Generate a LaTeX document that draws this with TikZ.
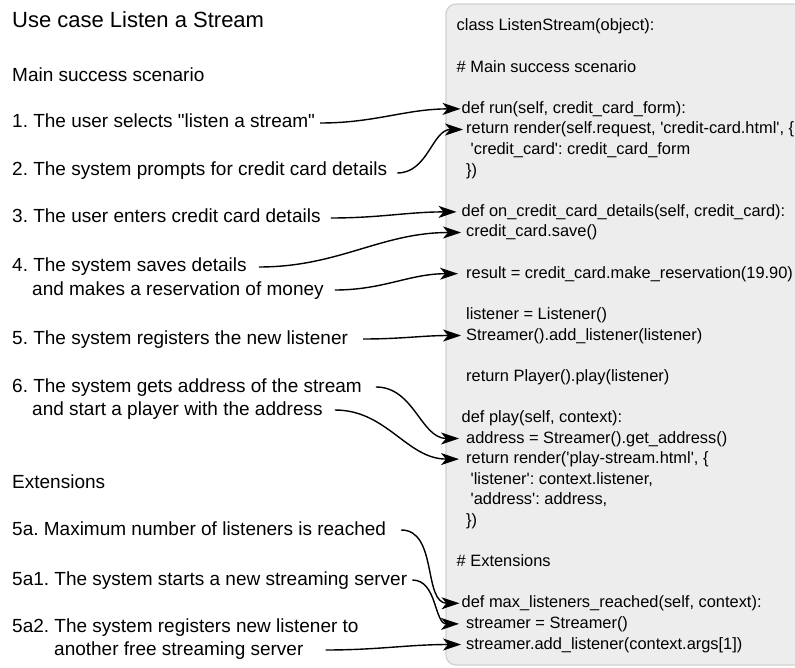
\documentclass[tikz,border=0pt]{standalone}
\usepackage{fontspec}
\setmainfont{Liberation Sans}[Ligatures=TeXOff]
\usetikzlibrary{arrows.meta}
\frenchspacing
\begin{document}
\begin{tikzpicture}[x=1pt,y=-1pt,
  lefttext/.style={anchor=base west,inner sep=0pt,text height=14pt,text depth=4pt,
    font=\fontsize{19}{23}\selectfont\frenchspacing},
  titletext/.style={anchor=base west,inner sep=0pt,font=\fontsize{22}{26}\selectfont},
  codetext/.style={anchor=base west,inner sep=1pt,text height=12pt,text depth=3pt,
    font=\fontsize{16.4}{20}\selectfont\frenchspacing},
  arr/.style={line width=1.4pt,-{Stealth[length=18pt,width=12pt,inset=5pt]}},
  codebox/.style={draw=black!18,line width=1.2pt,fill=black!7,rounded corners=10pt}
]
\useasboundingbox (0,0) rectangle (795,668);
\fill[white] (0,0) rectangle (795,668);
\draw[codebox] (446,4) rectangle (840,665);

% left column
\node[titletext] (title) at (12,28) {Use case Listen a Stream};
\node[lefttext] (main) at (12,82) {Main success scenario};
\node[lefttext] (l1) at (12,128) {1. The user selects "listen a stream"};
\node[lefttext] (l2) at (12,176) {2. The system prompts for credit card details};
\node[lefttext] (l3) at (12,223) {3. The user enters credit card details};
\node[lefttext] (l4a) at (12,272) {4. The system saves details};
\node[lefttext] (l4b) at (32,295) {and makes a reservation of money};
\node[lefttext] (l5) at (12,344) {5. The system registers the new listener};
\node[lefttext] (l6a) at (12,392) {6. The system gets address of the stream};
\node[lefttext] (l6b) at (32,415) {and start a player with the address};
\node[lefttext] (ext) at (12,488) {Extensions};
\node[lefttext] (l5a) at (12,535) {5a. Maximum number of listeners is reached};
\node[lefttext] (l5a1) at (12,585) {5a1. The system starts a new streaming server};
\node[lefttext] (l5a2a) at (12,632) {5a2. The system registers new listener to};
\node[lefttext] (l5a2b) at (54,655) {another free streaming server};

% code column
\node[codetext] (cclass) at (455.5,31) {class ListenStream(object):};
\node[codetext] (cmain) at (455.5,72.2) {\# Main success scenario};
\node[codetext] (crun) at (460.5,113.4) {def run(self, credit\_card\_form):};
\node[codetext] (cret1) at (465,134) {return render(self.request, 'credit-card.html', \{};
\node[codetext] (ccc) at (469.5,154.6) {'credit\_card': credit\_card\_form};
\node[codetext] (cend1) at (465,175.2) {\})};
\node[codetext] (cdet) at (460.5,216.4) {def on\_credit\_card\_details(self, credit\_card):};
\node[codetext] (csave) at (465,237) {credit\_card.save()};
\node[codetext] (cres) at (465,278.2) {result = credit\_card.make\_reservation(19.90)};
\node[codetext] (clis) at (465,319.4) {listener = Listener()};
\node[codetext] (cadd) at (465,340) {Streamer().add\_listener(listener)};
\node[codetext] (cplay) at (465,381.2) {return Player().play(listener)};
\node[codetext] (cdefplay) at (460.5,422.4) {def play(self, context):};
\node[codetext] (caddr) at (465,443) {address = Streamer().get\_address()};
\node[codetext] (cret2) at (465,463.6) {return render('play-stream.html', \{};
\node[codetext] (clist) at (469.5,484.2) {'listener': context.listener,};
\node[codetext] (caddress) at (469.5,504.8) {'address': address,};
\node[codetext] (cend2) at (465,525.4) {\})};
\node[codetext] (cext) at (455.5,566.6) {\# Extensions};
\node[codetext] (cmax) at (460.5,607.8) {def max\_listeners\_reached(self, context):};
\node[codetext] (cstr) at (465,628.4) {streamer = Streamer()};
\node[codetext] (cstradd) at (465,649) {streamer.add\_listener(context.args[1])};

% connectors
\draw[arr] ([xshift=5]l1.east) to[out=0,in=180] (crun.west);
\draw[arr] ([xshift=10,yshift=-2]l2.east) to[out=0,in=180] ([xshift=-2]cret1.west);
\draw[arr] ([xshift=10]l3.east) to[out=0,in=180] ([xshift=-4]cdet.west);
\draw[arr] ([xshift=12]l4a.east) to[out=0,in=180] ([xshift=-4]csave.west);
\draw[arr] ([xshift=11]l4b.east) to[out=0,in=180] ([xshift=-7]cres.west);
\draw[arr] ([xshift=15]l5.east) to[out=0,in=180] ([xshift=-4]cadd.west);
\draw[arr] ([xshift=14]l6a.east) to[out=0,in=180] ([xshift=-6]caddr.west);
\draw[arr] ([xshift=12]l6b.east) to[out=0,in=180] ([xshift=-6]cret2.west);
\draw[arr] ([xshift=15]l5a.east) to[out=0,in=180] ([xshift=-1]cmax.west);
\draw[arr] ([xshift=5]l5a1.east) to[out=0,in=180] ([xshift=-6]cstr.west);
\draw[arr] ([xshift=22]l5a2b.east) to[out=0,in=180] ([xshift=-4]cstradd.west);
\end{tikzpicture}
\end{document}
